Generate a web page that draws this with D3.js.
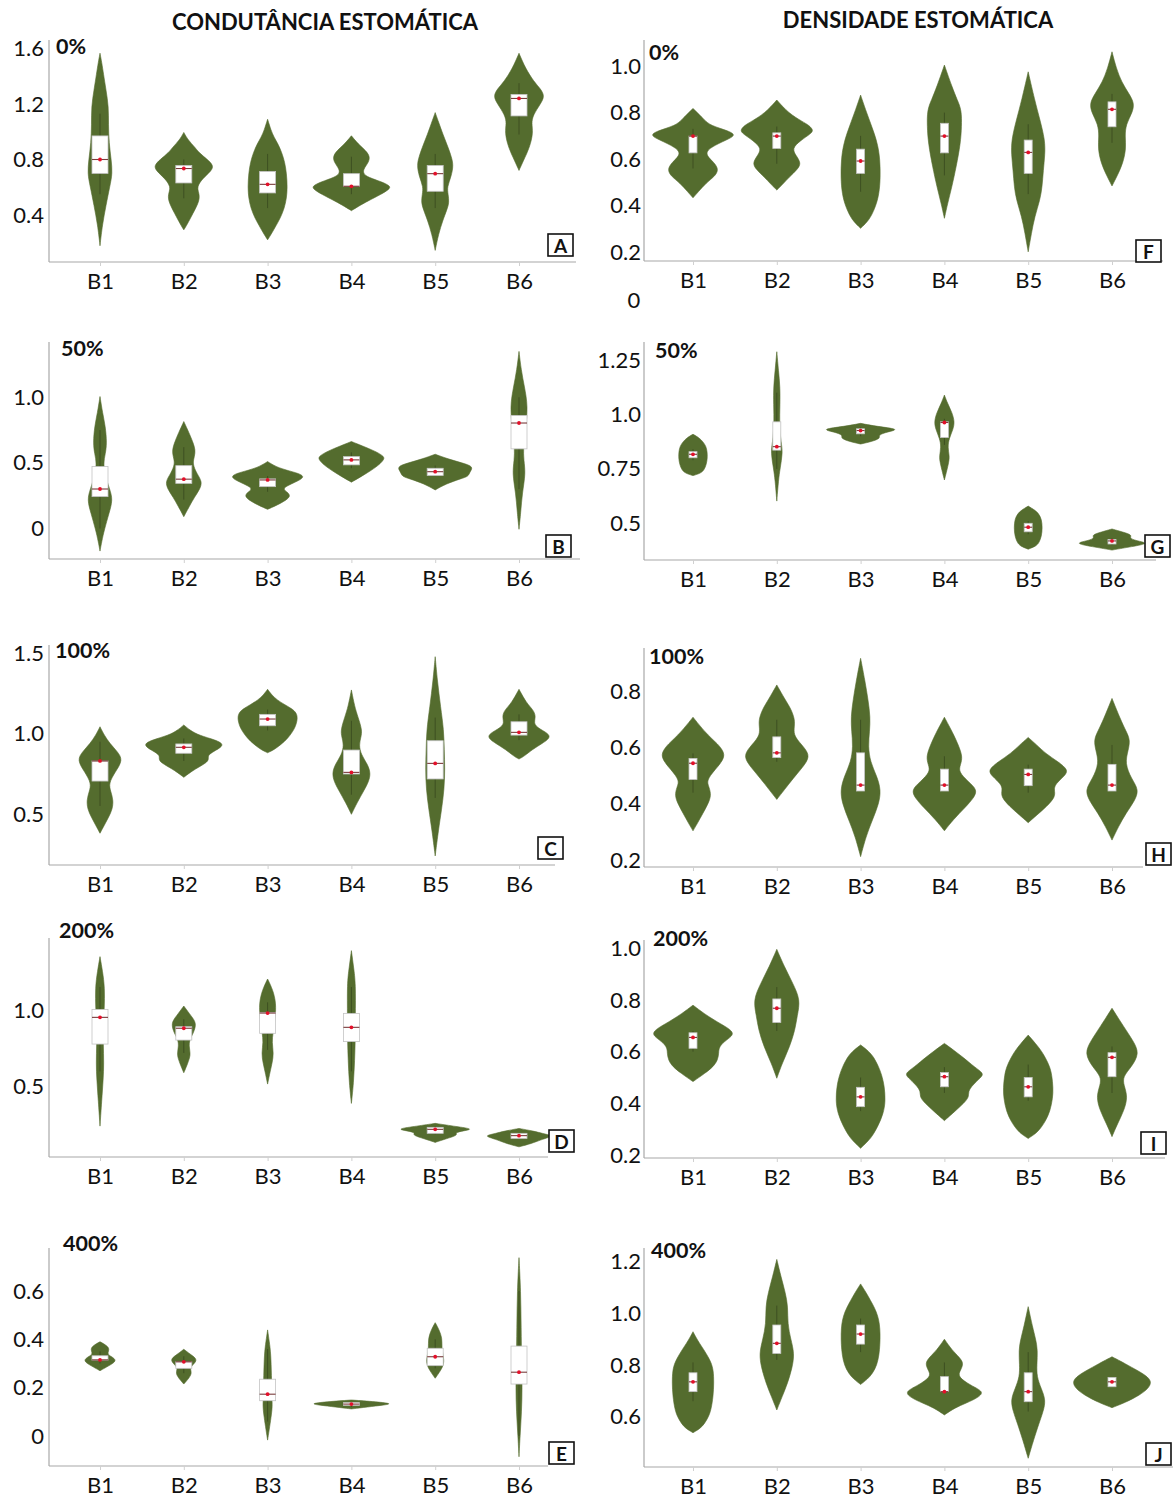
<!DOCTYPE html>
<html>
<head>
<meta charset="utf-8">
<script src="https://cdn.jsdelivr.net/npm/d3@7"></script>
<style>
  html, body { margin: 0; padding: 0; background: #fff; }
  svg { display: block; }
  text { font-family: Lato, "Open Sans", "DejaVu Sans", sans-serif; fill: #111; }
</style>
</head>
<body>
<svg id="chart" width="1176" height="1501"></svg>
<script>
// ---------------------------------------------------------------
// Data: violin profiles as [value, relative density] knots,
// box = [q1, median, q3], whisker = [low, high]
// ---------------------------------------------------------------
const categories = ["B1", "B2", "B3", "B4", "B5", "B6"];
const doses = ["0%", "50%", "100%", "200%", "400%"];
const columnTitles = ["CONDUTÂNCIA ESTOMÁTICA", "DENSIDADE ESTOMÁTICA"];

const ticksA = [0.4, 0.8, 1.2, 1.6];
const ticksB = [0, 0.5, 1.0];
const ticksC = [0.5, 1.0, 1.5];
const ticksD = [0.5, 1.0];
const ticksE = [0, 0.2, 0.4, 0.6];
const ticksF = [0.2, 0.4, 0.6, 0.8, 1.0];
const ticksG = [0.5, 0.75, 1.0, 1.25];
const ticksH = [0.2, 0.4, 0.6, 0.8];
const ticksI = [0.2, 0.4, 0.6, 0.8, 1.0];
const ticksJ = [0.6, 0.8, 1.0, 1.2];

// Condutância estomática
const condutancia0 = [
  {knots: [[0.178,0],[0.33,0.55],[0.47,1.4],[0.61,2.3],[0.70,2.9],[0.80,2.6],[0.92,2.1],[1.05,1.95],[1.18,2.0],[1.30,1.4],[1.42,0.8],[1.50,0.4],[1.566,0]], box: [0.70,0.80,0.97], whisker: [0.55,1.13]},
  {knots: [[0.293,0],[0.33,0.75],[0.41,2.1],[0.507,3.75],[0.56,3.5],[0.602,3.05],[0.66,4.25],[0.72,6.5],[0.757,6.9],[0.80,5.5],[0.85,3.5],[0.888,2.6],[0.94,1.0],[0.995,0]], box: [0.631,0.735,0.757], whisker: [0.52,0.80]},
  {knots: [[0.221,0],[0.27,1.0],[0.32,1.9],[0.38,3.0],[0.45,3.9],[0.52,4.4],[0.60,4.6],[0.70,4.4],[0.78,4.0],[0.85,3.3],[0.914,2.4],[0.96,1.5],[1.01,0.8],[1.09,0]], box: [0.559,0.621,0.714], whisker: [0.45,0.84]},
  {knots: [[0.431,0],[0.46,1.5],[0.50,3.75],[0.55,7.0],[0.585,8.75],[0.607,9.2],[0.64,7.0],[0.67,4.0],[0.70,2.6],[0.74,3.0],[0.78,4.0],[0.819,4.3],[0.86,3.5],[0.914,1.5],[0.971,0]], box: [0.607,0.607,0.698], whisker: [0.55,0.82]},
  {knots: [[0.145,0],[0.26,0.75],[0.36,1.75],[0.44,2.75],[0.49,3.25],[0.55,3.0],[0.60,2.75],[0.68,3.75],[0.76,4.25],[0.82,3.75],[0.88,3.1],[0.985,1.75],[1.06,0.9],[1.138,0]], box: [0.571,0.698,0.757], whisker: [0.45,0.84]},
  {knots: [[0.721,0],[0.79,1.0],[0.888,2.5],[0.995,3.3],[1.06,2.9],[1.12,3.25],[1.20,5.0],[1.257,6.0],[1.31,5.0],[1.36,3.5],[1.457,1.5],[1.566,0]], box: [1.114,1.24,1.269], whisker: [0.98,1.35]}
];
const condutancia50 = [
  {knots: [[-0.172,0],[-0.10,0.4],[-0.01,1.0],[0.116,2.1],[0.22,3.0],[0.30,2.25],[0.40,1.25],[0.495,0.75],[0.57,1.25],[0.65,1.6],[0.78,1.25],[0.88,0.6],[1.006,0]], box: [0.243,0.301,0.472], whisker: [0.0,0.75]},
  {knots: [[0.09,0],[0.167,1.25],[0.24,2.5],[0.30,3.75],[0.357,4.3],[0.42,3.0],[0.495,2.0],[0.55,2.5],[0.60,2.7],[0.66,2.1],[0.727,1.25],[0.815,0]], box: [0.344,0.376,0.479], whisker: [0.22,0.62]},
  {knots: [[0.146,0],[0.19,3.0],[0.243,5.6],[0.28,4.5],[0.306,3.25],[0.35,6.25],[0.396,9.1],[0.43,6.25],[0.46,2.5],[0.51,0]], box: [0.319,0.37,0.378], whisker: [0.28,0.40]},
  {knots: [[0.353,0],[0.41,3.0],[0.47,5.9],[0.52,7.5],[0.548,7.75],[0.59,5.5],[0.63,2.5],[0.663,0]], box: [0.485,0.523,0.548], whisker: [0.46,0.58]},
  {knots: [[0.294,0],[0.34,2.5],[0.38,6.0],[0.397,7.75],[0.43,8.0],[0.472,9.0],[0.50,6.25],[0.53,3.0],[0.566,0]], box: [0.404,0.433,0.459], whisker: [0.40,0.48]},
  {knots: [[-0.006,0],[0.12,0.4],[0.27,0.75],[0.42,1.55],[0.52,1.1],[0.62,1.0],[0.75,1.5],[0.93,2.1],[1.083,1.25],[1.21,0.5],[1.35,0]], box: [0.607,0.804,0.862], whisker: [0.3,1.0]}
];
const condutancia100 = [
  {knots: [[0.38,0],[0.43,1.0],[0.48,2.0],[0.53,2.9],[0.587,3.1],[0.64,2.5],[0.69,2.0],[0.76,3.5],[0.836,5.4],[0.89,4.0],[0.94,2.25],[0.99,1.0],[1.043,0]], box: [0.705,0.83,0.83], whisker: [0.55,0.95]},
  {knots: [[0.728,0],[0.77,2.0],[0.81,4.75],[0.836,5.9],[0.865,5.5],[0.89,7.0],[0.93,9.65],[0.96,7.5],[0.99,3.5],[1.02,1.5],[1.054,0]], box: [0.878,0.915,0.936], whisker: [0.83,0.97]},
  {knots: [[0.881,0],[0.90,1.5],[0.93,3.0],[0.97,4.7],[1.03,6.3],[1.08,6.9],[1.12,6.9],[1.15,6.0],[1.18,4.0],[1.21,2.2],[1.24,1.0],[1.276,0]], box: [1.049,1.091,1.12], whisker: [1.02,1.15]},
  {knots: [[0.498,0],[0.567,1.25],[0.65,3.0],[0.70,4.0],[0.754,4.5],[0.81,3.75],[0.87,2.25],[0.93,1.75],[0.98,2.25],[1.023,2.5],[1.106,1.5],[1.169,0.75],[1.272,0]], box: [0.749,0.759,0.898], whisker: [0.62,1.08]},
  {knots: [[0.239,0],[0.40,0.75],[0.53,1.5],[0.657,2.1],[0.78,2.25],[0.90,2.1],[1.02,2.0],[1.167,1.25],[1.33,0.5],[1.479,0]], box: [0.718,0.815,0.956], whisker: [0.6,1.1]},
  {knots: [[0.842,0],[0.86,1.25],[0.90,3.0],[0.94,5.5],[0.983,7.75],[1.02,5.5],[1.055,3.25],[1.107,4.0],[1.15,3.25],[1.19,1.75],[1.276,0]], box: [0.991,1.008,1.074], whisker: [0.96,1.12]}
];
const condutancia200 = [
  {knots: [[0.243,0],[0.41,0.4],[0.55,0.75],[0.65,0.9],[0.78,0.75],[0.90,0.75],[1.0,1.0],[1.15,1.1],[1.25,0.6],[1.348,0]], box: [0.778,0.952,1.004], whisker: [0.6,1.15]},
  {knots: [[0.591,0],[0.64,0.75],[0.69,1.4],[0.718,1.5],[0.76,1.25],[0.80,1.25],[0.85,2.25],[0.913,3.0],[0.96,1.75],[1.026,0]], box: [0.804,0.881,0.891], whisker: [0.72,0.94]},
  {knots: [[0.517,0],[0.60,0.6],[0.66,1.1],[0.718,1.4],[0.79,1.0],[0.85,1.25],[0.94,1.75],[1.043,2.0],[1.13,1.25],[1.202,0]], box: [0.848,0.98,0.983], whisker: [0.74,1.05]},
  {knots: [[0.391,0],[0.522,0.5],[0.674,0.75],[0.8,0.9],[0.95,0.9],[1.174,1.0],[1.28,0.5],[1.387,0]], box: [0.794,0.887,0.978], whisker: [0.6,1.15]},
  {knots: [[0.137,0],[0.16,2.5],[0.185,5.4],[0.20,4.5],[0.212,6.5],[0.224,9.0],[0.24,5.0],[0.261,0]], box: [0.196,0.222,0.235], whisker: [0.19,0.24]},
  {knots: [[0.108,0],[0.13,3.0],[0.153,5.0],[0.17,7.0],[0.181,7.75],[0.195,5.5],[0.21,3.5],[0.228,0]], box: [0.163,0.181,0.196], whisker: [0.16,0.20]}
];
const condutancia400 = [
  {knots: [[0.27,0],[0.29,2.0],[0.312,4.1],[0.33,2.5],[0.339,1.75],[0.352,2.0],[0.363,2.1],[0.375,1.5],[0.39,0]], box: [0.314,0.315,0.332], whisker: [0.30,0.35]},
  {knots: [[0.215,0],[0.235,1.0],[0.259,1.9],[0.275,1.5],[0.29,1.75],[0.312,3.2],[0.33,2.25],[0.345,1.0],[0.359,0]], box: [0.28,0.307,0.307], whisker: [0.26,0.33]},
  {knots: [[-0.017,0],[0.04,0.5],[0.09,0.9],[0.122,1.1],[0.16,1.0],[0.25,0.9],[0.342,0.75],[0.39,0.4],[0.439,0]], box: [0.146,0.173,0.235], whisker: [0.06,0.36]},
  {knots: [[0.112,0],[0.12,3.75],[0.128,7.5],[0.133,9.4],[0.14,7.0],[0.149,0]], box: [0.127,0.132,0.138], whisker: [0.12,0.14]},
  {knots: [[0.239,0],[0.27,1.25],[0.30,2.1],[0.33,1.9],[0.363,1.5],[0.404,1.65],[0.44,0.9],[0.469,0]], box: [0.291,0.328,0.363], whisker: [0.28,0.40]},
  {knots: [[-0.086,0],[0.0,0.25],[0.1,0.6],[0.2,0.75],[0.3,0.6],[0.45,0.5],[0.6,0.4],[0.738,0]], box: [0.215,0.264,0.372], whisker: [0.0,0.6]}
];

// Densidade estomática
const densidade0 = [
  {knots: [[0.434,0],[0.46,1.25],[0.497,3.0],[0.525,5.0],[0.554,6.0],[0.585,5.0],[0.626,2.4],[0.66,5.0],[0.69,8.75],[0.704,9.75],[0.72,8.5],[0.745,4.0],[0.767,2.75],[0.818,0]], box: [0.627,0.699,0.699], whisker: [0.56,0.73]},
  {knots: [[0.467,0],[0.49,1.25],[0.525,3.0],[0.555,4.75],[0.582,5.7],[0.615,4.5],[0.646,3.5],[0.68,5.5],[0.71,8.0],[0.725,8.5],[0.745,7.5],[0.761,6.0],[0.797,2.75],[0.854,0]], box: [0.646,0.699,0.713], whisker: [0.58,0.74]},
  {knots: [[0.303,0],[0.33,1.5],[0.353,2.4],[0.397,3.5],[0.45,4.3],[0.52,4.6],[0.60,4.5],[0.66,4.0],[0.71,3.2],[0.76,2.2],[0.81,1.2],[0.875,0]], box: [0.539,0.592,0.643], whisker: [0.46,0.70]},
  {knots: [[0.346,0],[0.41,0.75],[0.482,1.75],[0.568,2.75],[0.668,3.75],[0.74,4.0],[0.811,4.0],[0.854,3.0],[0.911,1.75],[1.004,0]], box: [0.627,0.699,0.754], whisker: [0.53,0.80]},
  {knots: [[0.202,0],[0.282,0.75],[0.353,1.5],[0.425,2.75],[0.482,3.25],[0.55,3.5],[0.62,3.9],[0.682,3.9],[0.768,2.75],[0.854,1.5],[0.975,0]], box: [0.539,0.629,0.682], whisker: [0.45,0.75]},
  {knots: [[0.485,0],[0.53,1.25],[0.58,2.5],[0.646,3.3],[0.70,3.0],[0.75,3.25],[0.80,4.75],[0.84,5.2],[0.88,4.0],[0.93,2.25],[0.99,1.0],[1.061,0]], box: [0.739,0.814,0.846], whisker: [0.67,0.88]}
];
const densidade50 = [
  {knots: [[0.719,0],[0.73,1.8],[0.745,2.6],[0.77,3.1],[0.80,3.35],[0.83,3.3],[0.855,3.0],[0.875,2.3],[0.893,1.4],[0.909,0]], box: [0.801,0.817,0.829], whisker: [0.79,0.84]},
  {knots: [[0.602,0],[0.70,0.4],[0.75,0.75],[0.827,1.4],[0.87,1.0],[0.95,0.6],[1.05,0.75],[1.127,0.75],[1.2,0.4],[1.288,0]], box: [0.836,0.852,0.966], whisker: [0.75,1.1]},
  {knots: [[0.864,0],[0.875,2.5],[0.891,4.75],[0.905,4.0],[0.92,6.25],[0.932,9.25],[0.945,3.75],[0.959,0]], box: [0.911,0.926,0.934], whisker: [0.90,0.94]},
  {knots: [[0.699,0],[0.745,0.6],[0.78,1.0],[0.807,1.2],[0.85,0.75],[0.89,1.1],[0.93,2.0],[0.966,2.4],[1.01,1.75],[1.05,0.75],[1.089,0]], box: [0.894,0.963,0.966], whisker: [0.86,0.98]},
  {knots: [[0.381,0],[0.395,1.8],[0.41,2.5],[0.44,3.1],[0.48,3.3],[0.52,3.1],[0.545,2.4],[0.56,1.6],[0.579,0]], box: [0.461,0.482,0.50], whisker: [0.45,0.51]},
  {knots: [[0.377,0],[0.39,3.75],[0.408,9.0],[0.42,5.5],[0.433,4.0],[0.446,4.75],[0.46,2.5],[0.474,0]], box: [0.405,0.419,0.426], whisker: [0.40,0.43]}
];
const densidade100 = [
  {knots: [[0.304,0],[0.33,1.0],[0.365,2.25],[0.40,3.5],[0.43,4.25],[0.46,3.75],[0.483,3.1],[0.52,5.0],[0.568,7.75],[0.60,6.5],[0.617,5.5],[0.652,3.0],[0.709,0]], box: [0.487,0.545,0.562], whisker: [0.44,0.58]},
  {knots: [[0.416,0],[0.45,1.75],[0.49,3.75],[0.53,6.0],[0.568,7.75],[0.60,6.5],[0.64,4.0],[0.67,4.0],[0.70,4.25],[0.74,3.25],[0.77,2.0],[0.824,0]], box: [0.565,0.582,0.639], whisker: [0.55,0.70]},
  {knots: [[0.212,0],[0.284,1.25],[0.343,2.75],[0.40,4.25],[0.45,4.75],[0.50,3.75],[0.55,2.25],[0.605,1.75],[0.66,2.1],[0.71,2.25],[0.77,1.75],[0.84,1.0],[0.919,0]], box: [0.446,0.467,0.582], whisker: [0.45,0.70]},
  {knots: [[0.304,0],[0.343,2.0],[0.39,5.0],[0.42,6.75],[0.45,7.75],[0.48,5.5],[0.515,3.25],[0.54,3.75],[0.568,4.25],[0.61,3.25],[0.652,2.0],[0.709,0]], box: [0.446,0.467,0.524], whisker: [0.45,0.57]},
  {knots: [[0.333,0],[0.36,2.0],[0.39,4.25],[0.426,6.4],[0.45,6.0],[0.47,6.25],[0.50,8.5],[0.521,9.35],[0.55,7.0],[0.58,4.0],[0.61,2.0],[0.637,0]], box: [0.465,0.505,0.524], whisker: [0.44,0.54]},
  {knots: [[0.271,0],[0.319,1.5],[0.367,3.25],[0.41,5.25],[0.45,6.3],[0.49,4.5],[0.545,3.0],[0.59,3.75],[0.628,4.25],[0.66,3.25],[0.70,2.0],[0.776,0]], box: [0.446,0.467,0.541], whisker: [0.45,0.61]}
];
const densidade200 = [
  {knots: [[0.484,0],[0.516,2.75],[0.542,4.75],[0.568,5.75],[0.594,6.0],[0.619,6.0],[0.645,7.75],[0.664,9.4],[0.684,9.0],[0.716,5.5],[0.748,2.5],[0.78,0]], box: [0.613,0.655,0.673], whisker: [0.60,0.68]},
  {knots: [[0.497,0],[0.555,1.25],[0.619,3.0],[0.684,4.25],[0.74,4.75],[0.80,5.5],[0.864,3.75],[0.929,1.75],[0.996,0]], box: [0.713,0.768,0.804], whisker: [0.68,0.85]},
  {knots: [[0.226,0],[0.25,1.5],[0.27,2.6],[0.31,4.0],[0.36,5.3],[0.41,5.8],[0.47,5.5],[0.51,4.9],[0.542,4.2],[0.58,3.0],[0.60,2.0],[0.626,0]], box: [0.387,0.425,0.462], whisker: [0.37,0.50]},
  {knots: [[0.333,0],[0.37,2.5],[0.40,4.5],[0.425,5.75],[0.445,5.5],[0.47,6.5],[0.50,8.5],[0.516,9.2],[0.54,7.0],[0.58,4.25],[0.632,0]], box: [0.464,0.503,0.519], whisker: [0.44,0.54]},
  {knots: [[0.264,0],[0.28,1.5],[0.297,2.6],[0.33,4.0],[0.37,5.1],[0.42,5.7],[0.46,5.8],[0.51,5.5],[0.542,5.0],[0.57,4.2],[0.60,3.2],[0.63,1.8],[0.664,0]], box: [0.425,0.464,0.50], whisker: [0.41,0.55]},
  {knots: [[0.271,0],[0.32,1.25],[0.37,2.75],[0.425,3.7],[0.47,2.75],[0.503,2.5],[0.54,4.5],[0.593,6.4],[0.64,5.0],[0.696,2.75],[0.768,0]], box: [0.503,0.578,0.596], whisker: [0.44,0.62]}
];
const densidade400 = [
  {knots: [[0.538,0],[0.555,1.75],[0.575,2.75],[0.60,3.6],[0.626,4.2],[0.68,4.7],[0.73,4.85],[0.78,4.75],[0.81,4.2],[0.832,3.5],[0.86,2.5],[0.884,1.5],[0.91,0.6],[0.929,0]], box: [0.697,0.735,0.77], whisker: [0.66,0.81]},
  {knots: [[0.626,0],[0.678,1.25],[0.729,2.5],[0.79,3.6],[0.845,4.1],[0.90,3.25],[0.96,2.5],[1.026,2.6],[1.08,2.0],[1.14,1.0],[1.209,0]], box: [0.845,0.884,0.955], whisker: [0.82,1.03]},
  {knots: [[0.725,0],[0.745,1.6],[0.768,2.8],[0.80,3.8],[0.84,4.3],[0.88,4.5],[0.92,4.55],[0.96,4.4],[0.99,4.0],[1.02,3.3],[1.05,2.3],[1.08,1.3],[1.114,0]], box: [0.881,0.92,0.955], whisker: [0.85,0.98]},
  {knots: [[0.607,0],[0.635,2.5],[0.652,5.0],[0.675,8.0],[0.697,9.2],[0.72,6.25],[0.755,3.0],[0.78,3.75],[0.806,4.5],[0.83,3.5],[0.858,1.75],[0.9,0]], box: [0.697,0.697,0.755], whisker: [0.70,0.81]},
  {knots: [[0.439,0],[0.51,1.25],[0.574,2.5],[0.62,3.5],[0.665,4.1],[0.71,3.0],[0.755,2.0],[0.80,2.0],[0.858,2.2],[0.90,1.75],[0.948,1.0],[1.026,0]], box: [0.658,0.697,0.77], whisker: [0.62,0.85]},
  {knots: [[0.635,0],[0.654,3.0],[0.684,6.5],[0.71,8.5],[0.735,9.25],[0.76,8.0],[0.794,4.25],[0.815,2.0],[0.832,0]], box: [0.716,0.735,0.752], whisker: [0.72,0.75]}
];

// ---------------------------------------------------------------
// Layout
// ---------------------------------------------------------------
const columns = [
  {axisX: 49, catRange: [100, 519], boxW: 16, tickGap: 5, titleX: 325, titleY: 30},
  {axisX: 644, catRange: [693, 1112], boxW: 8, tickGap: 3, titleX: 918, titleY: 28}
];

// anchor: [value0, pixel0, value1, pixel1]
const panels = [
  {letter: "A", col: 0, dose: 0, data: condutancia0,   ticks: ticksA, anchor: [0.4, 215, 1.6, 48.5],   top: 40,   bottom: 262,  xEnd: 576,  box: [548, 234],  doseXY: [56, 54]},
  {letter: "B", col: 0, dose: 1, data: condutancia50,  ticks: ticksB, anchor: [0, 528.5, 1.0, 397.3],  top: 342,  bottom: 559,  xEnd: 580,  box: [546, 535],  doseXY: [61, 356]},
  {letter: "C", col: 0, dose: 2, data: condutancia100, ticks: ticksC, anchor: [0.5, 814, 1.5, 653.3],  top: 645,  bottom: 865,  xEnd: 555,  box: [538, 837],  doseXY: [55, 658]},
  {letter: "D", col: 0, dose: 3, data: condutancia200, ticks: ticksD, anchor: [0.5, 1086.7, 1.0, 1010], top: 938, bottom: 1157, xEnd: 548,  box: [549, 1130], doseXY: [59, 938]},
  {letter: "E", col: 0, dose: 4, data: condutancia400, ticks: ticksE, anchor: [0, 1436, 0.6, 1291],    top: 1248, bottom: 1466, xEnd: 548,  box: [549, 1442], doseXY: [63, 1251]},
  {letter: "F", col: 1, dose: 0, data: densidade0,     ticks: ticksF, anchor: [0.2, 252.3, 1.0, 66],   top: 40,   bottom: 261,  xEnd: 1163, box: [1136, 240], doseXY: [649, 60]},
  {letter: "G", col: 1, dose: 1, data: densidade50,    ticks: ticksG, anchor: [0.5, 523.3, 1.25, 360], top: 342,  bottom: 560,  xEnd: 1156, box: [1145, 535], doseXY: [655, 358]},
  {letter: "H", col: 1, dose: 2, data: densidade100,   ticks: ticksH, anchor: [0.2, 860, 0.8, 691.7],  top: 648,  bottom: 867,  xEnd: 1143, box: [1146, 843], doseXY: [649, 664]},
  {letter: "I", col: 1, dose: 3, data: densidade200,   ticks: ticksI, anchor: [0.2, 1155, 1.0, 948.3], top: 940,  bottom: 1158, xEnd: 1165, box: [1141, 1132], doseXY: [653, 946]},
  {letter: "J", col: 1, dose: 4, data: densidade400,   ticks: ticksJ, anchor: [0.6, 1416.7, 1.2, 1261.7], top: 1248, bottom: 1467, xEnd: 1173, box: [1146, 1443], doseXY: [651, 1258]}
];

const COLORS = {
  violin: "#546c2e",
  axis: "#a8a8a8",
  whisker: "#2b3818",
  boxStroke: "#c4c4c4",
  median: "#7a3c3c",
  mean: "#e3102a"
};

const FONT = "Lato, 'Open Sans', sans-serif";
const svg = d3.select("#chart");

// half-width of a violin for a given relative density
const widthScale = d3.scaleLinear().domain([0, 10]).range([0, 43]);

const tickFormat = d => {
  if (d === 0) return "0";
  const tenths = d * 10;
  return Math.abs(tenths - Math.round(tenths)) < 1e-9 ? d3.format(".1f")(d) : d3.format(".2f")(d);
};

// Column titles
columns.forEach((c, i) => {
  svg.append("text")
    .attr("x", c.titleX).attr("y", c.titleY)
    .attr("text-anchor", "middle")
    .attr("font-size", 22)
    .attr("font-weight", 700)
    .text(columnTitles[i]);
});

// Stray axis label left under the first density panel
svg.append("text")
  .attr("x", 634).attr("y", 308)
  .attr("text-anchor", "middle")
  .attr("font-size", 22)
  .text("0");

panels.forEach(p => {
  const col = columns[p.col];
  const g = svg.append("g").attr("class", "panel panel-" + p.letter);

  const y = d3.scaleLinear()
    .domain([p.anchor[0], p.anchor[2]])
    .range([p.anchor[1], p.anchor[3]]);
  const x = d3.scalePoint().domain(categories).range(col.catRange);

  // axis lines
  g.append("line")
    .attr("x1", col.axisX).attr("x2", col.axisX)
    .attr("y1", p.top).attr("y2", p.bottom)
    .attr("stroke", COLORS.axis).attr("stroke-width", 1.2);
  g.append("line")
    .attr("x1", col.axisX).attr("x2", p.xEnd)
    .attr("y1", p.bottom).attr("y2", p.bottom)
    .attr("stroke", COLORS.axis).attr("stroke-width", 1.2);

  // y axis ticks
  const yAxis = g.append("g")
    .attr("transform", `translate(${col.axisX},0)`)
    .call(d3.axisLeft(y).tickValues(p.ticks).tickSize(0).tickPadding(col.tickGap).tickFormat(tickFormat));
  yAxis.select(".domain").remove();
  yAxis.selectAll("text")
    .attr("font-size", 22)
    .attr("font-family", FONT)
    .attr("fill", "#111");

  // x axis ticks
  const xAxis = g.append("g")
    .attr("transform", `translate(0,${p.bottom})`)
    .call(d3.axisBottom(x).tickSize(4).tickPadding(7));
  xAxis.select(".domain").remove();
  xAxis.selectAll("line").attr("stroke", "#d0d0d0");
  xAxis.selectAll("text")
    .attr("font-size", 22)
    .attr("font-family", FONT)
    .attr("fill", "#111");

  // violins (smoothed outline through the density knots)
  const area = d3.area()
    .curve(d3.curveBasis)
    .y(k => y(k[0]));

  p.data.forEach((v, i) => {
    const cx = x(categories[i]);
    const knots = v.knots.slice().reverse();   // top to bottom on screen
    g.append("path")
      .datum(knots)
      .attr("d", area.x0(k => cx - widthScale(k[1])).x1(k => cx + widthScale(k[1])))
      .attr("fill", COLORS.violin)
      .attr("stroke", COLORS.violin)
      .attr("stroke-width", 0.6)
      .attr("stroke-linejoin", "round");

    // whisker
    g.append("line")
      .attr("x1", cx).attr("x2", cx)
      .attr("y1", y(v.whisker[0])).attr("y2", y(v.whisker[1]))
      .attr("stroke", COLORS.whisker).attr("stroke-width", 1)
      .attr("stroke-opacity", 0.55);

    // inter-quartile box
    const [q1, med, q3] = v.box;
    const bw = col.boxW;
    g.append("rect")
      .attr("x", cx - bw / 2)
      .attr("y", y(q3))
      .attr("width", bw)
      .attr("height", Math.max(1, y(q1) - y(q3)))
      .attr("fill", "#fff")
      .attr("stroke", COLORS.boxStroke)
      .attr("stroke-width", 0.8);

    // median line and marker
    g.append("line")
      .attr("x1", cx - bw / 2).attr("x2", cx + bw / 2)
      .attr("y1", y(med)).attr("y2", y(med))
      .attr("stroke", COLORS.median).attr("stroke-width", 1.1);
    g.append("circle")
      .attr("cx", cx).attr("cy", y(med)).attr("r", 1.9)
      .attr("fill", COLORS.mean);
  });

  // dose label
  g.append("text")
    .attr("x", p.doseXY[0]).attr("y", p.doseXY[1])
    .attr("font-size", 21.5).attr("font-weight", 700)
    .text(doses[p.dose]);

  // panel letter in a box
  g.append("rect")
    .attr("x", p.box[0]).attr("y", p.box[1])
    .attr("width", 25).attr("height", 22)
    .attr("fill", "#fff").attr("stroke", "#111").attr("stroke-width", 1.6);
  g.append("text")
    .attr("x", p.box[0] + 12.5).attr("y", p.box[1] + 18.5)
    .attr("text-anchor", "middle")
    .attr("font-size", 19).attr("font-weight", 700)
    .text(p.letter);
});
</script>
</body>
</html>
